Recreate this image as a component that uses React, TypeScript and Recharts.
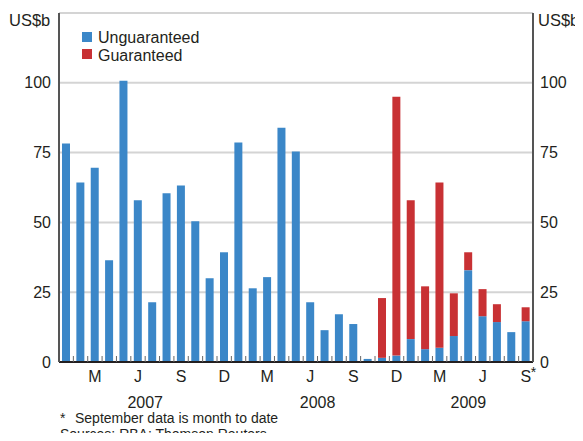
import React from 'react';
import { ComposedChart, Bar, Line, XAxis, YAxis, CartesianGrid } from 'recharts';

// Monthly issuance, Jan 2007 to Sep 2009 (US$b)
const months = [
  'Jan-07', 'Feb-07', 'Mar-07', 'Apr-07', 'May-07', 'Jun-07', 'Jul-07', 'Aug-07', 'Sep-07', 'Oct-07', 'Nov-07', 'Dec-07',
  'Jan-08', 'Feb-08', 'Mar-08', 'Apr-08', 'May-08', 'Jun-08', 'Jul-08', 'Aug-08', 'Sep-08', 'Oct-08', 'Nov-08', 'Dec-08',
  'Jan-09', 'Feb-09', 'Mar-09', 'Apr-09', 'May-09', 'Jun-09', 'Jul-09', 'Aug-09', 'Sep-09',
];
const unguaranteed = [
  78.3, 64.3, 69.6, 36.4, 100.7, 57.9, 21.4, 60.4, 63.2, 50.4, 30.0, 39.3,
  78.6, 26.4, 30.4, 83.9, 75.4, 21.4, 11.4, 17.1, 13.6, 1.1, 1.5, 2.3,
  8.2, 4.6, 5.1, 9.3, 32.9, 16.4, 14.3, 10.7, 14.6,
];
const guaranteed = [
  0, 0, 0, 0, 0, 0, 0, 0, 0, 0, 0, 0,
  0, 0, 0, 0, 0, 0, 0, 0, 0, 0, 21.4, 92.7,
  49.7, 22.5, 59.2, 15.3, 6.4, 9.7, 6.4, 0, 5.0,
];
const monthLabels = [
  '', '', 'M', '', '', 'J', '', '', 'S', '', '', 'D',
  '', '', 'M', '', '', 'J', '', '', 'S', '', '', 'D',
  '', '', 'M', '', '', 'J', '', '', 'S*',
];
// year label: [text, month index, shift in bands]
const yearLabels: [string, number, number][] = [
  ['2007', 5, 0.5],
  ['2008', 17, 0.5],
  ['2009', 28, 0],
];
const yTicks = [0, 25, 50, 75, 100];

const data = months.map((m, i) => ({ month: m, unguaranteed: unguaranteed[i], guaranteed: guaranteed[i] }));

const W = 583;
const H = 441;
const LEFT = 59;
const RIGHT = 50;
const step = (W - LEFT - RIGHT) / months.length;
const FONT = '"Liberation Sans", Arial, sans-serif';
const TEXT = '#231f20';
const BLUE = '#3b87c8';
const RED = '#c83134';

const MonthTick = (props: any) => {
  const { x, y, payload } = props;
  const i = payload.index;
  const label = monthLabels[i];
  const year = yearLabels.find(yl => yl[1] === i);
  return (
    <g>
      {i > 0 && <line x1={x - step / 2} x2={x - step / 2} y1={y} y2={y - 6} stroke="#666" strokeWidth={1} />}
      {label && (
        <text x={x} y={y + 20} textAnchor="middle" fontSize={16} fill={TEXT} fontFamily={FONT}>
          {label.replace('*', '')}
        </text>
      )}
      {label.endsWith('*') && (
        <text x={x + 5} y={y + 15} textAnchor="start" fontSize={14} fill={TEXT} fontFamily={FONT}>*</text>
      )}
      {year && (
        <text x={x + year[2] * step} y={y + 46} textAnchor="middle" fontSize={16} fill={TEXT} fontFamily={FONT}>
          {year[0]}
        </text>
      )}
    </g>
  );
};

export default function App() {
  return (
    <div style={{ position: 'relative', width: W, height: H, margin: '-8px', background: '#fff' }}>
      <ComposedChart width={W} height={H} data={data} margin={{ top: 13, right: 0, bottom: 0, left: 0 }} barSize={8}>
        <CartesianGrid xAxisId="b" yAxisId="l" vertical={false} stroke="#d4d4d4" strokeWidth={2} />
        <XAxis
          xAxisId="b"
          dataKey="month"
          height={79}
          interval={0}
          tickLine={false}
          tickSize={0}
          tickMargin={0}
          tick={<MonthTick />}
          axisLine={{ stroke: TEXT, strokeWidth: 2 }}
        />
        <XAxis
          xAxisId="top"
          dataKey="month"
          orientation="top"
          height={0}
          tick={false}
          tickLine={false}
          axisLine={{ stroke: '#555', strokeWidth: 2 }}
        />
        <YAxis
          yAxisId="l"
          width={LEFT}
          domain={[0, 125]}
          ticks={yTicks}
          tickLine={false}
          tickSize={0}
          tickMargin={8}
          axisLine={{ stroke: '#555', strokeWidth: 2 }}
          tick={{ fontSize: 16, fill: TEXT, fontFamily: FONT }}
        />
        <YAxis
          yAxisId="r"
          orientation="right"
          width={RIGHT}
          domain={[0, 125]}
          ticks={yTicks}
          tickLine={false}
          tickSize={0}
          tickMargin={7}
          axisLine={{ stroke: '#555', strokeWidth: 2 }}
          tick={{ fontSize: 16, fill: TEXT, fontFamily: FONT }}
        />
        <Bar xAxisId="b" yAxisId="l" dataKey="unguaranteed" stackId="a" fill={BLUE} isAnimationActive={false} />
        <Bar xAxisId="b" yAxisId="l" dataKey="guaranteed" stackId="a" fill={RED} isAnimationActive={false} />
        {/* invisible series so the top and right axes get drawn */}
        <Line xAxisId="top" yAxisId="r" dataKey="unguaranteed" stroke="none" dot={false} activeDot={false} isAnimationActive={false} />
      </ComposedChart>
      <svg width={W} height={H} style={{ position: 'absolute', left: 0, top: 0, pointerEvents: 'none' }} fontFamily={FONT} fill={TEXT}>
        <text x={296} y={5} textAnchor="middle" fontSize={16}>Monthly</text>
        <text x={9} y={26} fontSize={16.5}>US$b</text>
        <text x={538} y={26} fontSize={16.5}>US$b</text>
        <rect x={82} y={32} width={10} height={10} fill={BLUE} />
        <text x={98} y={43} fontSize={16}>Unguaranteed</text>
        <rect x={82} y={49} width={10} height={10} fill={RED} />
        <text x={98} y={61} fontSize={16}>Guaranteed</text>
        <text x={60} y={423} fontSize={14}>*</text>
        <text x={75} y={423} fontSize={14}>September data is month to date</text>
        <text x={60} y={438.5} fontSize={14}>Sources: RBA: Thomson Reuters</text>
      </svg>
    </div>
  );
}
